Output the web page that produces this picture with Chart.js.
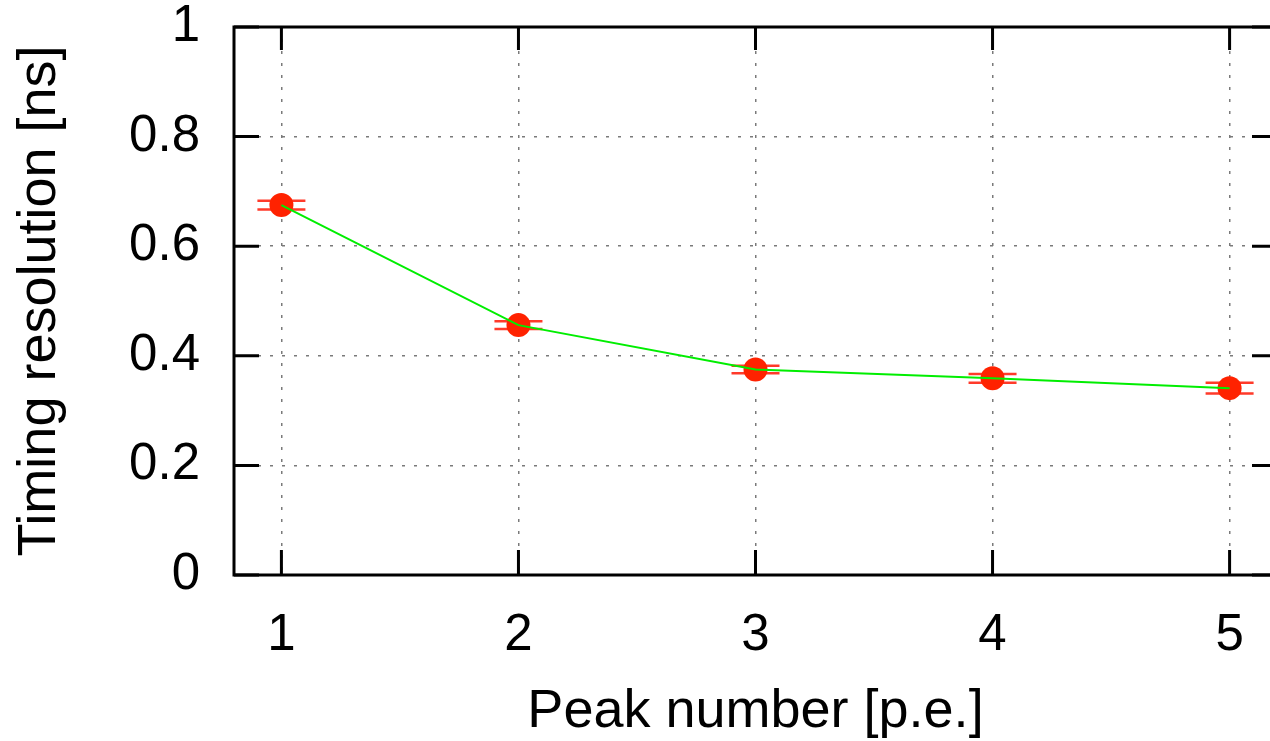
<!DOCTYPE html>
<html>
<head>
<meta charset="utf-8">
<script src="https://cdn.jsdelivr.net/npm/chart.js@4/dist/chart.umd.min.js"></script>
<style>
  html, body { margin: 0; padding: 0; background: #ffffff; overflow: hidden; }
  #wrap { position: absolute; left: 0; top: 0; width: 1290px; height: 741px; }
</style>
</head>
<body>
<div id="wrap"><canvas id="c" width="1290" height="741"></canvas></div>
<script>
// ---- data ----
const peakNumbers = [1, 2, 3, 4, 5];
const timingResolution = [0.675, 0.456, 0.375, 0.359, 0.341];
const timingError = [0.008, 0.007, 0.007, 0.008, 0.01];
const xTickValues = [1, 2, 3, 4, 5];
const yTickValues = [0, 0.2, 0.4, 0.6, 0.8, 1];
const xTitle = 'Peak number [p.e.]';
const yTitle = 'Timing resolution [ns]';

const FONT = "'Liberation Sans', Helvetica, Arial, sans-serif";
const RED = '#ff2200';
const GREEN = '#00ee00';

const pts = peakNumbers.map((x, i) => ({ x: x, y: timingResolution[i] }));

const framePlugin = {
  id: 'frame',
  beforeDatasetsDraw(chart) {
    const { ctx, chartArea: a, scales: { x, y } } = chart;
    ctx.save();
    // error bars (drawn under the markers)
    ctx.strokeStyle = '#ff3a2a';
    ctx.lineWidth = 2.5;
    peakNumbers.forEach((xv, i) => {
      const px = x.getPixelForValue(xv);
      const yt = y.getPixelForValue(timingResolution[i] + timingError[i]);
      const yb = y.getPixelForValue(timingResolution[i] - timingError[i]);
      ctx.beginPath();
      ctx.moveTo(px, yt); ctx.lineTo(px, yb);
      ctx.moveTo(px - 24, yt); ctx.lineTo(px + 24, yt);
      ctx.moveTo(px - 24, yb); ctx.lineTo(px + 24, yb);
      ctx.stroke();
    });
    // frame
    ctx.strokeStyle = '#000000';
    ctx.lineWidth = 3;
    ctx.strokeRect(a.left, a.top, a.right - a.left, a.bottom - a.top);
    // inward ticks, mirrored
    ctx.beginPath();
    x.ticks.forEach(t => {
      const px = x.getPixelForValue(t.value);
      ctx.moveTo(px, a.bottom); ctx.lineTo(px, a.bottom - 25);
      ctx.moveTo(px, a.top); ctx.lineTo(px, a.top + 23);
    });
    y.ticks.forEach(t => {
      const py = y.getPixelForValue(t.value);
      ctx.moveTo(a.left, py); ctx.lineTo(a.left + 25, py);
      ctx.moveTo(a.right, py); ctx.lineTo(a.right - 25, py);
    });
    ctx.stroke();
    ctx.restore();
  }
};

new Chart(document.getElementById('c'), {
  type: 'scatter',
  data: {
    datasets: [
      {
        label: 'line',
        data: pts,
        showLine: true,
        borderColor: GREEN,
        borderWidth: 2,
        pointRadius: 0,
        fill: false,
        order: 0
      },
      {
        label: 'points',
        data: pts,
        showLine: false,
        pointRadius: 12,
        pointBackgroundColor: RED,
        pointBorderWidth: 0,
        order: 1
      }
    ]
  },
  options: {
    responsive: false,
    animation: false,
    devicePixelRatio: 1,
    layout: { padding: { top: 27, right: 13, left: 0, bottom: 0 } },
    plugins: { legend: { display: false }, tooltip: { enabled: false } },
    scales: {
      x: {
        type: 'linear',
        min: 0.8,
        max: 5.2,
        afterBuildTicks(s) { s.ticks = xTickValues.map(v => ({ value: v })); },
        afterFit(s) { s.height = 166; s.paddingLeft = 0; s.paddingRight = 0; },
        border: { display: false, dash: [3, 9] },
        grid: { color: '#7a7a7a', lineWidth: 1.5, drawTicks: false },
        ticks: { color: '#000', font: { family: FONT, size: 51 }, padding: 30, callback: v => String(v) },
        title: { display: true, text: xTitle, color: '#000', font: { family: FONT, size: 54, lineHeight: 1 }, padding: { top: 0, bottom: 2 } }
      },
      y: {
        type: 'linear',
        min: 0,
        max: 1,
        afterBuildTicks(s) { s.ticks = yTickValues.map(v => ({ value: v })); },
        afterFit(s) { s.width = 234; s.paddingTop = 0; s.paddingBottom = 0; },
        border: { display: false, dash: [3, 9] },
        grid: { color: '#7a7a7a', lineWidth: 1.5, drawTicks: false },
        ticks: { color: '#000', font: { family: FONT, size: 51 }, padding: 34, callback: v => String(v) },
        title: { display: true, text: yTitle, color: '#000', font: { family: FONT, size: 54, lineHeight: 1 }, padding: { top: 13, bottom: 0 } }
      }
    }
  },
  plugins: [framePlugin]
});
</script>
</body>
</html>
